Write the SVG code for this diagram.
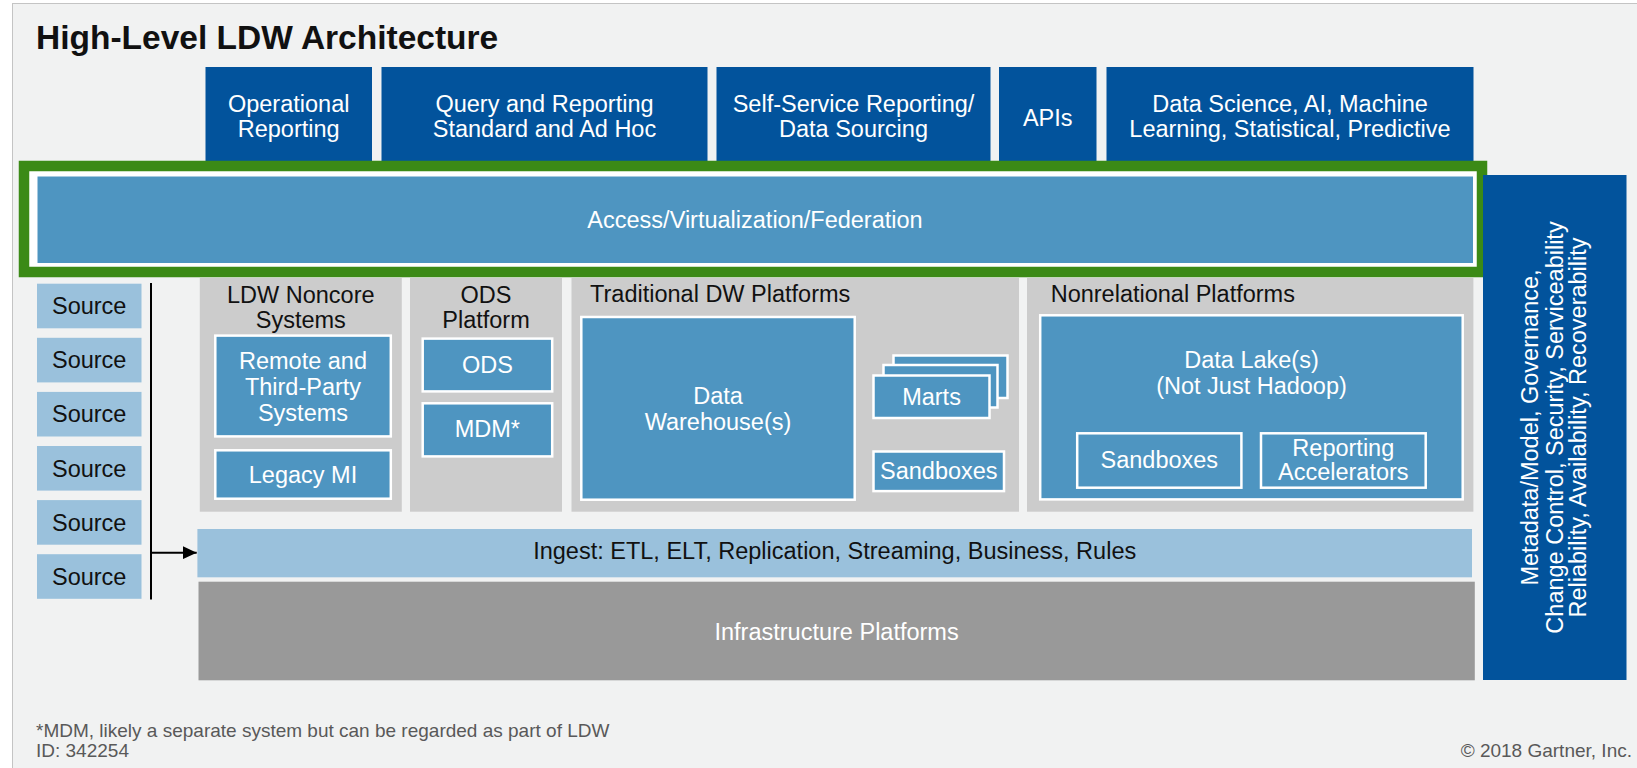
<svg xmlns="http://www.w3.org/2000/svg" width="1637" height="768" viewBox="0 0 1637 768">
<defs>
<style>
text{font-family:"Liberation Sans",Arial,sans-serif;font-size:23.5px}
.dk{fill:#02539c}
.md{fill:#4e95c1}
.mb{fill:#4e95c1;stroke:#fff;stroke-width:2.5}
.ol{fill:none;stroke:#fff;stroke-width:2.5}
.lt{fill:#9ac1dc}
.gp{fill:#cccccc}
.w{fill:#fff;text-anchor:middle}
.b{fill:#111;text-anchor:middle}
.bl{fill:#111}
.fn{fill:#595959;font-size:19px}
</style>
<marker id="ah" markerWidth="14" markerHeight="13" refX="14" refY="6.5" orient="auto" markerUnits="userSpaceOnUse">
<path d="M0,0 L14,6.5 L0,13 z" fill="#000"/>
</marker>
</defs>
<rect x="0" y="0" width="1637" height="768" fill="#fff"/>
<rect x="12.5" y="3.5" width="1640" height="780" fill="#f1f2f2" stroke="#c4c4c4" stroke-width="1"/>
<text x="36" y="49" style="font-size:33.5px;font-weight:bold" fill="#111">High-Level LDW Architecture</text>

<g id="top-operational"><rect class="dk" x="205.5" y="67" width="166.5" height="100"/><text class="w" x="288.7" y="111.5">Operational</text><text class="w" x="288.7" y="137">Reporting</text></g>
<g id="top-query"><rect class="dk" x="381.5" y="67" width="326" height="100"/><text class="w" x="544.5" y="111.5">Query and Reporting</text><text class="w" x="544.5" y="137">Standard and Ad Hoc</text></g>
<g id="top-selfservice"><rect class="dk" x="716.5" y="67" width="274" height="100"/><text class="w" x="853.5" y="111.5">Self-Service Reporting/</text><text class="w" x="853.5" y="137">Data Sourcing</text></g>
<g id="top-apis"><rect class="dk" x="999" y="67" width="97.5" height="100"/><text class="w" x="1047.7" y="126">APIs</text></g>
<g id="top-datascience"><rect class="dk" x="1106.5" y="67" width="367" height="100"/><text class="w" x="1290" y="111.5">Data Science, AI, Machine</text><text class="w" x="1290" y="137">Learning, Statistical, Predictive</text></g>

<g id="access">
<rect x="24" y="166" width="1458" height="106" fill="#fff" stroke="#3b8a16" stroke-width="10.5"/>
<rect class="md" x="37.5" y="176.5" width="1435.5" height="86.5"/>
<text class="w" x="755" y="227.5">Access/Virtualization/Federation</text>
</g>

<g id="governance">
<rect class="dk" x="1483" y="175" width="143.5" height="505"/>
<g transform="translate(1554.5,427.5) rotate(-90)">
<text class="w" x="0" y="-16.5">Metadata/Model, Governance,</text>
<text class="w" x="0" y="8">Change Control, Security, Serviceability</text>
<text class="w" x="0" y="31.5">Reliability, Availability, Recoverability</text>
</g>
</g>

<g id="source-1"><rect class="lt" x="37" y="283.7" width="104.5" height="44.6"/><text class="b" x="89.2" y="314.2">Source</text></g>
<g id="source-2"><rect class="lt" x="37" y="337.8" width="104.5" height="44.6"/><text class="b" x="89.2" y="368.3">Source</text></g>
<g id="source-3"><rect class="lt" x="37" y="391.9" width="104.5" height="44.6"/><text class="b" x="89.2" y="422.4">Source</text></g>
<g id="source-4"><rect class="lt" x="37" y="446" width="104.5" height="44.6"/><text class="b" x="89.2" y="476.5">Source</text></g>
<g id="source-5"><rect class="lt" x="37" y="500.1" width="104.5" height="44.6"/><text class="b" x="89.2" y="530.6">Source</text></g>
<g id="source-6"><rect class="lt" x="37" y="554.2" width="104.5" height="44.6"/><text class="b" x="89.2" y="584.7">Source</text></g>

<g id="panel-noncore">
<rect class="gp" x="199.8" y="278" width="202" height="233.7"/>
<text class="b" x="300.8" y="302.7">LDW Noncore</text>
<text class="b" x="300.8" y="327.7">Systems</text>
</g>
<g id="remote"><rect class="mb" x="215.3" y="335.6" width="175.5" height="100.8"/><text class="w" x="303" y="368.5">Remote and</text><text class="w" x="303" y="394.5">Third-Party</text><text class="w" x="303" y="420.5">Systems</text></g>
<g id="legacy"><rect class="mb" x="215.3" y="450.3" width="175.5" height="48.4"/><text class="w" x="303" y="483">Legacy MI</text></g>

<g id="panel-ods">
<rect class="gp" x="410" y="278" width="152" height="233.7"/>
<text class="b" x="486" y="302.7">ODS</text>
<text class="b" x="486" y="327.7">Platform</text>
</g>
<g id="ods"><rect class="mb" x="422.7" y="338.6" width="129.5" height="52.8"/><text class="w" x="487.4" y="373.4">ODS</text></g>
<g id="mdm"><rect class="mb" x="422.7" y="403.3" width="129.5" height="53.1"/><text class="w" x="487.4" y="436.5">MDM*</text></g>

<g id="panel-traditional">
<rect class="gp" x="571.5" y="278" width="447.5" height="233.7"/>
<text class="bl" x="590" y="301.7">Traditional DW Platforms</text>
</g>
<g id="datawarehouse"><rect class="mb" x="581.3" y="317" width="273.4" height="182.7"/><text class="w" x="718" y="403.7">Data</text><text class="w" x="718" y="429.7">Warehouse(s)</text></g>
<g id="marts">
<rect class="mb" x="893.5" y="355.5" width="114" height="42.5"/>
<rect class="mb" x="883.5" y="365" width="114" height="42.5"/>
<rect class="mb" x="873.5" y="375.5" width="116" height="42.5"/>
<text class="w" x="931.5" y="405">Marts</text>
</g>
<g id="sandboxes-dw"><rect class="mb" x="873.5" y="451.5" width="130.5" height="39.6"/><text class="w" x="938.8" y="479">Sandboxes</text></g>

<g id="panel-nonrelational">
<rect class="gp" x="1027" y="278" width="446.4" height="233.7"/>
<text class="bl" x="1050.7" y="301.7">Nonrelational Platforms</text>
</g>
<g id="datalake"><rect class="mb" x="1040.2" y="315.3" width="422.5" height="184.1"/><text class="w" x="1251.5" y="368">Data Lake(s)</text><text class="w" x="1251.5" y="394">(Not Just Hadoop)</text></g>
<g id="sandboxes-lake"><rect class="ol" x="1077.2" y="433.3" width="164.2" height="54.4"/><text class="w" x="1159.3" y="468">Sandboxes</text></g>
<g id="accelerators"><rect class="ol" x="1261" y="433.3" width="164.7" height="54.4"/><text class="w" x="1343.3" y="456.3">Reporting</text><text class="w" x="1343.3" y="480.3">Accelerators</text></g>

<g id="ingest"><rect class="lt" x="197.4" y="529" width="1274.6" height="48.3"/><text class="b" x="834.7" y="559">Ingest: ETL, ELT, Replication, Streaming, Business, Rules</text></g>
<g id="infrastructure"><rect x="198.5" y="581.7" width="1276.3" height="98.6" fill="#999999"/><text class="w" x="836.6" y="639.7">Infrastructure Platforms</text></g>

<g id="connectors">
<line x1="151" y1="283" x2="151" y2="599.5" stroke="#000" stroke-width="2"/>
<line x1="151" y1="552.7" x2="196.7" y2="552.7" stroke="#000" stroke-width="2" marker-end="url(#ah)"/>
</g>

<text class="fn" x="36" y="737">*MDM, likely a separate system but can be regarded as part of LDW</text>
<text class="fn" x="36" y="757">ID: 342254</text>
<text class="fn" x="1632" y="757" text-anchor="end">© 2018 Gartner, Inc.</text>
</svg>
